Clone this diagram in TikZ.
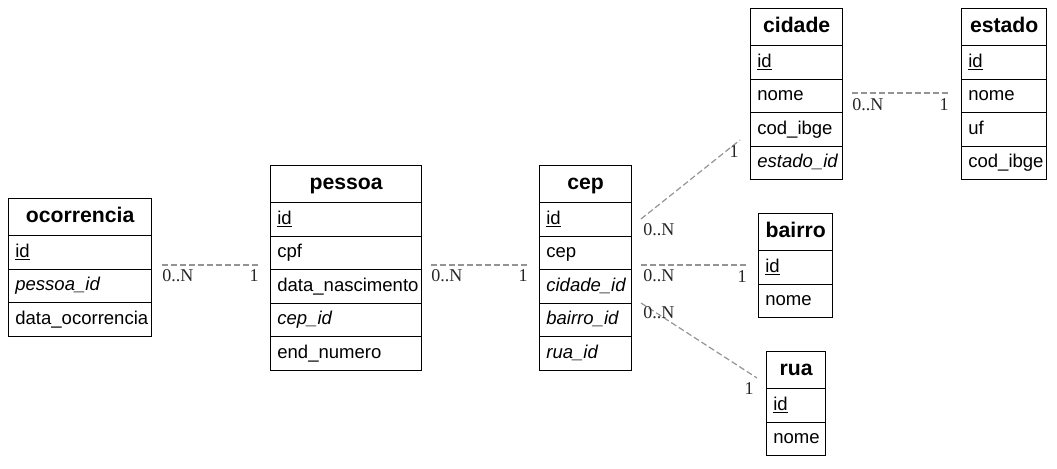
\documentclass[tikz,border=0pt]{standalone}
\usepackage{fontspec}
\setmainfont{Liberation Sans}
\newfontfamily\lblfont{Liberation Serif}
\begin{document}
\begin{tikzpicture}[x=0.75pt,y=-0.75pt,
  hdr/.style={draw=black, line width=1pt, minimum height=27.75pt, inner sep=0pt,
    text height=11.5pt, text depth=3pt,
    font=\fontsize{15.9}{18}\selectfont\bfseries},
  rowbox/.style={draw=black, line width=1pt, minimum height=25.125pt, inner ysep=0pt,
    inner xsep=5pt, align=left, text height=10pt, text depth=3pt,
    font=\fontsize{13.9}{16}\selectfont},
  rel/.style={draw=black!42, line width=0.9pt, dash pattern=on 4.5pt off 2.25pt},
  card/.style={inner sep=0pt, font=\lblfont\fontsize{13.5}{15}\selectfont, text=black!85}
]
\useasboundingbox (0,0) rectangle (1057,468);
\newcommand\ertab[6]{%
  \node[hdr, minimum width=#4*0.75pt, anchor=north west] (#1) at (#2,#3) {#5};
  \foreach \t [count=\i] in {#6} {
    \node[rowbox, text width=#4*0.75pt-10pt, anchor=north west] (#1-\i) at (#2,{#3+37+(\i-1)*33.5}) {\t};
  }%
}
\ertab{ocorrencia}{8}{198}{143}{ocorrencia}{\underline{id},\textit{pessoa\_id},data\_ocorrencia}
\ertab{pessoa}{270}{165}{151}{pessoa}{\underline{id},cpf,data\_nascimento,\textit{cep\_id},end\_numero}
\ertab{cep}{539}{165}{92}{cep}{\underline{id},cep,\textit{cidade\_id},\textit{bairro\_id},\textit{rua\_id}}
\ertab{cidade}{750}{8}{92}{cidade}{\underline{id},nome,cod\_ibge,\textit{estado\_id}}
\ertab{estado}{961}{8}{85}{estado}{\underline{id},nome,uf,cod\_ibge}
\ertab{bairro}{758}{213}{74}{bairro}{\underline{id},nome}
\ertab{rua}{766}{351}{59}{rua}{\underline{id},nome}

% connector end points
\coordinate (r1a) at (162,265); \coordinate (r1b) at (258,265);
\coordinate (r2a) at (431,265); \coordinate (r2b) at (527,265);
\coordinate (r3a) at (641,265); \coordinate (r3b) at (747,265);
\coordinate (r4a) at (641,219); \coordinate (r4b) at (740,140);
\coordinate (r5a) at (641,303); \coordinate (r5b) at (757,378);
\coordinate (r6a) at (852,93);  \coordinate (r6b) at (948,93);

\draw[rel] (r1a) -- (r1b);
\draw[rel] (r2a) -- (r2b);
\draw[rel] (r3a) -- (r3b);
\draw[rel] (r4a) -- (r4b);
\draw[rel] (r5a) -- (r5b);
\draw[rel] (r6a) -- (r6b);

\node[card, anchor=base west] (l1a) at (162,281) {0..N};
\node[card, anchor=base east] (l1b) at (259,281) {1};
\node[card, anchor=base west] (l2a) at (431,281) {0..N};
\node[card, anchor=base east] (l2b) at (528,281) {1};
\node[card, anchor=base west] (l3a) at (643,281) {0..N};
\node[card, anchor=base east] (l3b) at (747,282) {1};
\node[card, anchor=base west] (l4a) at (643,235) {0..N};
\node[card, anchor=base east] (l4b) at (739,157) {1};
\node[card, anchor=base west] (l5a) at (643,318) {0..N};
\node[card, anchor=base east] (l5b) at (754,394) {1};
\node[card, anchor=base west] (l6a) at (852,110) {0..N};
\node[card, anchor=base east] (l6b) at (949,110) {1};
\end{tikzpicture}
\end{document}
